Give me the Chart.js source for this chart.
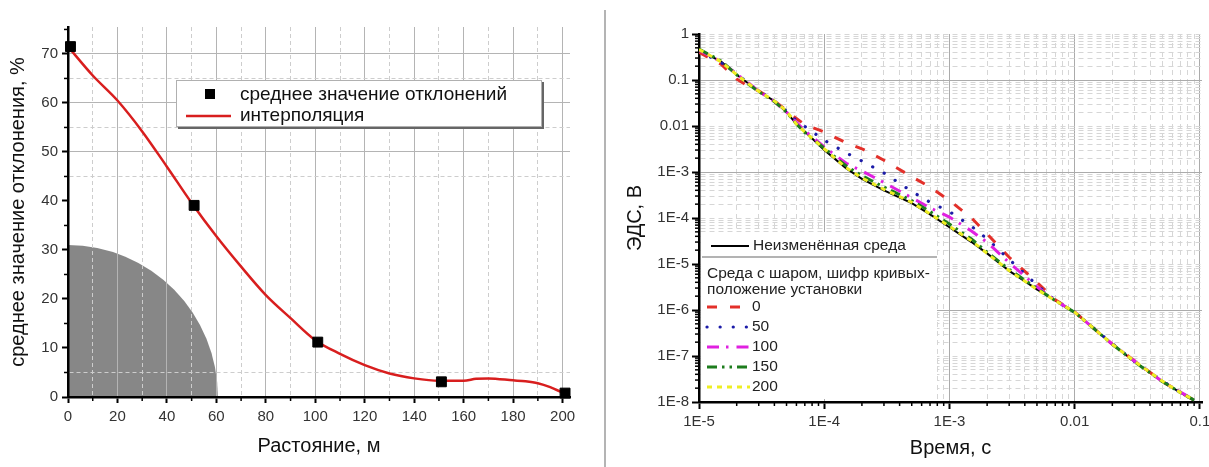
<!DOCTYPE html>
<html>
<head>
<meta charset="utf-8">
<script src="https://cdn.jsdelivr.net/npm/chart.js@4.4.0/dist/chart.umd.min.js"></script>
<style>
html, body { margin: 0; padding: 0; background: #fff; }
body { width: 1209px; height: 467px; position: relative; overflow: hidden; }
#left-wrap { position: absolute; left: 0; top: 0; width: 600px; height: 467px; }
#right-wrap { position: absolute; left: 606px; top: 0; width: 603px; height: 467px; }
#divider { position: absolute; left: 604px; top: 10px; width: 2px; height: 457px; background: #b4b4b4; }
</style>
</head>
<body>
<div id="left-wrap"><canvas id="deviation-chart"></canvas></div>
<div id="divider"></div>
<div id="right-wrap"><canvas id="emf-chart"></canvas></div>
<script>
const FONT_FAMILY = "'Liberation Sans', Arial, Helvetica, sans-serif";

// left chart: mean deviation vs distance
const distanceMeasured = [1, 51, 101, 151, 201];
const deviationMeasured = [71.5, 39.1, 11.2, 3.1, 0.8];
const distanceInterp = [0, 10, 20, 30, 40, 50, 60, 70, 80, 90, 100, 110, 120, 130, 140, 150, 160, 165, 170, 180, 185, 190, 195, 200];
const deviationInterp = [71.5, 65.6, 60.5, 54.2, 47, 39.6, 32.8, 26.6, 20.8, 16.1, 11.6, 8.8, 6.5, 4.8, 3.8, 3.3, 3.3, 3.7, 3.8, 3.4, 3.2, 2.8, 2.0, 0.9];
const zoneRadiusDistance = 60.6;
const zoneRadiusDeviation = 31;
const deviationLegendLabels = ['среднее значение отклонений', 'интерполяция'];

// right chart: EMF decay vs time
const timeValues = [1e-5, 1.5e-5, 2e-5, 2.5e-5, 3e-5, 4e-5, 5e-5, 6e-5, 7e-5, 1e-4, 1.5e-4, 2e-4, 3e-4, 5e-4, 7e-4, 1e-3, 1.5e-3, 2e-3, 3e-3, 5e-3, 7e-3, 0.01, 0.02, 0.03, 0.05, 0.07, 0.09];
const emfPlain = [0.45, 0.25, 0.13, 0.083, 0.056, 0.035, 0.02, 0.011, 0.0076, 0.003, 1.2e-3, 7.1e-4, 4e-4, 2.1e-4, 1.2e-4, 6.3e-5, 3e-5, 1.7e-5, 7.1e-6, 2.8e-6, 1.6e-6, 8.9e-7, 1.8e-7, 7.6e-8, 2.8e-8, 1.6e-8, 1.07e-8];
const emfPos0 = [0.4, 0.22, 0.105, 0.072, 0.058, 0.035, 0.022, 0.0145, 0.0107, 0.0074, 0.0043, 0.0032, 0.0018, 7.9e-4, 4.7e-4, 2.4e-4, 1e-4, 4.5e-5, 1.4e-5, 4e-6, 1.66e-6, 9.1e-7, 1.8e-7, 7.9e-8, 2.8e-8, 1.6e-8, 1.1e-8];
const emfPos50 = [0.43, 0.24, 0.135, 0.083, 0.058, 0.035, 0.021, 0.013, 0.0098, 0.0049, 0.0026, 1.74e-3, 9.5e-4, 3.8e-4, 2.2e-4, 1.38e-4, 6.6e-5, 3.5e-5, 1.26e-5, 3.5e-6, 1.6e-6, 8.9e-7, 1.85e-7, 7.6e-8, 2.9e-8, 1.6e-8, 1.1e-8];
const emfPos100 = [0.45, 0.25, 0.135, 0.085, 0.057, 0.034, 0.02, 0.012, 0.0079, 0.0035, 1.55e-3, 1.05e-3, 5.9e-4, 2.75e-4, 1.66e-4, 1.05e-4, 5.2e-5, 2.95e-5, 1.07e-5, 3.2e-6, 1.6e-6, 9e-7, 1.8e-7, 7.8e-8, 2.8e-8, 1.65e-8, 1.1e-8];
const emfPos150 = [0.47, 0.26, 0.13, 0.08, 0.056, 0.034, 0.02, 0.011, 0.0072, 0.0033, 1.35e-3, 8.3e-4, 4.7e-4, 2.4e-4, 1.38e-4, 7.4e-5, 3.5e-5, 1.8e-5, 7.6e-6, 2.95e-6, 1.6e-6, 8.9e-7, 1.8e-7, 7.5e-8, 2.8e-8, 1.6e-8, 1.1e-8];
const emfPos200 = [0.46, 0.25, 0.13, 0.082, 0.057, 0.035, 0.021, 0.011, 0.0074, 0.0032, 1.23e-3, 7.4e-4, 4.2e-4, 2.2e-4, 1.23e-4, 6.6e-5, 3.2e-5, 1.7e-5, 7.2e-6, 2.8e-6, 1.6e-6, 9e-7, 1.8e-7, 7.7e-8, 2.85e-8, 1.6e-8, 1.1e-8];
const emfLegendLabels = ['Неизменённая среда', '0', '50', '100', '150', '200'];
const emfLegendCaption = ['Среда с шаром, шифр кривых-', 'положение установки'];
const timeTickValues = [1e-5, 1e-4, 1e-3, 0.01, 0.1];
const timeTickLabels = ['1E-5', '1E-4', '1E-3', '0.01', '0.1'];
const emfTickValues = [1, 0.1, 0.01, 1e-3, 1e-4, 1e-5, 1e-6, 1e-7, 1e-8];
const emfTickLabels = ['1', '0.1', '0.01', '1E-3', '1E-4', '1E-5', '1E-6', '1E-7', '1E-8'];
const emfSolidGridExp = [-1, -3, -6];

Chart.defaults.font.family = FONT_FAMILY;
Chart.defaults.color = '#333';

function fixAxisSize(size) {
    return function (scale) {
        if (scale.isHorizontal()) scale.height = size; else scale.width = size;
        scale.paddingLeft = 0;
        scale.paddingRight = 0;
        scale.paddingTop = 0;
        scale.paddingBottom = 0;
    };
}

function minorTicks(isMajorX, isMajorY, len) {
    return {
        id: 'minorTicks',
        afterDraw(chart) {
            const ctx = chart.ctx;
            ctx.save();
            ctx.strokeStyle = '#000';
            ctx.lineWidth = 1.5;
            const sx = chart.scales.x, sy = chart.scales.y;
            sx.ticks.forEach(t => {
                if (isMajorX(t.value)) return;
                const p = sx.getPixelForValue(t.value);
                ctx.beginPath(); ctx.moveTo(p, sx.top); ctx.lineTo(p, sx.top + len); ctx.stroke();
            });
            sy.ticks.forEach(t => {
                if (isMajorY(t.value)) return;
                const p = sy.getPixelForValue(t.value);
                ctx.beginPath(); ctx.moveTo(sy.right, p); ctx.lineTo(sy.right - len, p); ctx.stroke();
            });
            ctx.restore();
        }
    };
}

function toPoints(xs, ys) {
    return xs.map((x, i) => ({x: x, y: ys[i]}));
}

function isDecade(v) {
    const l = Math.log10(v);
    return Math.abs(l - Math.round(l)) < 1e-9;
}

function logTicks(min, max) {
    const out = [];
    for (let e = Math.floor(Math.log10(min)); e <= Math.ceil(Math.log10(max)); e++) {
        for (let m = 1; m <= 9; m++) {
            const v = m * Number('1e' + e);
            if (v >= min * 0.999999 && v <= max * 1.000001) out.push(v);
        }
    }
    return out;
}

function labelFor(v, values, labels) {
    const i = values.findIndex(t => Math.abs(Math.log10(t) - Math.log10(v)) < 1e-6);
    return i >= 0 ? labels[i] : '';
}

function buildDeviationChart() {
    const ctx = document.getElementById('deviation-chart').getContext('2d');

    const zonePlugin = {
        id: 'zone',
        beforeDraw(chart) {
            const {x: sx, y: sy} = chart.scales;
            const c = chart.ctx;
            const cx = sx.getPixelForValue(0), cy = sy.getPixelForValue(0);
            const rx = sx.getPixelForValue(zoneRadiusDistance) - cx;
            const ry = cy - sy.getPixelForValue(zoneRadiusDeviation);
            c.save();
            c.fillStyle = '#878787';
            c.beginPath();
            c.moveTo(cx, cy);
            c.ellipse(cx, cy, rx, ry, 0, -Math.PI / 2, 0);
            c.closePath();
            c.fill();
            c.restore();
        }
    };

    const legendPlugin = {
        id: 'deviationLegend',
        afterDraw(chart) {
            const c = chart.ctx;
            const bx = 176, by = 80, bw = 366, bh = 47;
            const marks = chart.data.datasets[0], line = chart.data.datasets[1];
            c.save();
            c.fillStyle = '#666';
            c.fillRect(bx + 2, by + 2, bw, bh);
            c.fillStyle = '#fff';
            c.fillRect(bx, by, bw, bh);
            c.strokeStyle = '#b0b0b0';
            c.lineWidth = 1;
            c.strokeRect(bx + 0.5, by + 0.5, bw - 1, bh - 1);
            c.fillStyle = marks.backgroundColor;
            c.fillRect(205, 89, 10, 10);
            c.strokeStyle = line.borderColor;
            c.lineWidth = line.borderWidth;
            c.beginPath(); c.moveTo(186, 116); c.lineTo(231, 116); c.stroke();
            c.font = '19px ' + FONT_FAMILY;
            c.fillStyle = '#111';
            c.textBaseline = 'middle';
            c.fillText(deviationLegendLabels[0], 240, 95);
            c.fillText(deviationLegendLabels[1], 240, 116);
            c.restore();
        }
    };

    const majorX = v => v % 20 === 0;
    const majorY = v => v % 10 === 0;

    return new Chart(ctx, {
        type: 'line',
        data: {
            datasets: [{
                label: deviationLegendLabels[0],
                data: toPoints(distanceMeasured, deviationMeasured),
                showLine: false,
                pointStyle: 'rect',
                pointRadius: 7,
                backgroundColor: '#000',
                borderColor: '#000',
                clip: false,
                order: 0
            }, {
                label: deviationLegendLabels[1],
                data: toPoints(distanceInterp, deviationInterp),
                borderColor: '#d81e1e',
                borderWidth: 2.5,
                pointRadius: 0,
                cubicInterpolationMode: 'monotone',
                order: 1
            }]
        },
        options: {
            animation: false,
            responsive: true,
            maintainAspectRatio: false,
            layout: {padding: {top: 27, right: 30, bottom: 0, left: 0}},
            plugins: {legend: {display: false}, tooltip: {enabled: false}},
            scales: {
                x: {
                    type: 'linear', min: 0, max: 203,
                    afterFit: fixAxisSize(70),
                    ticks: {
                        stepSize: 10, includeBounds: false, autoSkip: false, maxRotation: 0,
                        padding: 5, font: {size: 15}, color: '#333',
                        callback: v => majorX(v) ? String(v) : ''
                    },
                    grid: {
                        color: c => c.tick && majorX(c.tick.value) ? '#b4b4b4' : '#cdcdcd',
                        lineWidth: 1, tickLength: 6, tickWidth: 2,
                        tickColor: c => c.tick && majorX(c.tick.value) ? '#000' : 'transparent'
                    },
                    border: {color: '#000', width: 2.5, dash: c => c.tick && !majorX(c.tick.value) ? [4, 3] : []},
                    title: {display: true, text: 'Растояние, м', color: '#111', font: {size: 20, lineHeight: 1.2}, padding: {top: 0, bottom: 9}}
                },
                y: {
                    type: 'linear', min: 0, max: 75.5,
                    afterFit: fixAxisSize(68),
                    ticks: {
                        stepSize: 5, includeBounds: false, autoSkip: false,
                        padding: 4, font: {size: 15}, color: '#333',
                        callback: v => majorY(v) ? String(v) : ''
                    },
                    grid: {
                        color: c => {
                            if (!c.tick) return 'transparent';
                            const v = c.tick.value;
                            if (!(v === 5 || (v >= 45 && v <= 70))) return 'transparent';
                            return majorY(v) ? '#b4b4b4' : '#cdcdcd';
                        },
                        lineWidth: 1, tickLength: 6, tickWidth: 2,
                        tickColor: c => c.tick && majorY(c.tick.value) ? '#000' : 'transparent'
                    },
                    border: {color: '#000', width: 2.5, dash: c => c.tick && !majorY(c.tick.value) ? [4, 3] : []},
                    title: {display: true, text: 'среднее значение отклонения, %', color: '#111', font: {size: 20, lineHeight: 1.2}, padding: {top: 6, bottom: 0}}
                }
            }
        },
        plugins: [zonePlugin, minorTicks(majorX, majorY, 4), legendPlugin]
    });
}

function buildEmfChart() {
    const ctx = document.getElementById('emf-chart').getContext('2d');

    const legendPlugin = {
        id: 'emfLegend',
        afterDraw(chart) {
            const c = chart.ctx;
            const ds = chart.data.datasets;
            c.save();
            c.fillStyle = '#fff';
            c.fillRect(95, 232, 236, 167);
            c.strokeStyle = '#9a9a9a';
            c.lineWidth = 1.5;
            c.beginPath(); c.moveTo(96, 257); c.lineTo(331, 257); c.stroke();
            c.font = '15.5px ' + FONT_FAMILY;
            c.fillStyle = '#222';
            c.textBaseline = 'middle';
            const drawSample = (d, x1, x2, y) => {
                c.save();
                c.strokeStyle = d.borderColor;
                c.lineWidth = d.borderWidth;
                c.lineCap = d.borderCapStyle || 'butt';
                c.setLineDash(d.borderDash || []);
                c.beginPath(); c.moveTo(x1, y); c.lineTo(x2, y); c.stroke();
                c.restore();
            };
            drawSample(ds[0], 105, 143, 246);
            c.fillText(emfLegendLabels[0], 147, 246);
            c.fillText(emfLegendCaption[0], 101, 274);
            c.fillText(emfLegendCaption[1], 101, 290);
            for (let i = 1; i < ds.length; i++) {
                const y = 307 + (i - 1) * 20;
                drawSample(ds[i], 101, 144, y);
                c.fillText(emfLegendLabels[i], 146, y);
            }
            c.restore();
        }
    };

    const majorY = v => isDecade(v);
    const solidY = v => isDecade(v) && emfSolidGridExp.includes(Math.round(Math.log10(v)));

    const common = {pointRadius: 0, fill: false, tension: 0};

    return new Chart(ctx, {
        type: 'line',
        data: {
            datasets: [
                Object.assign({label: emfLegendLabels[0], data: toPoints(timeValues, emfPlain), borderColor: '#000', borderWidth: 2, order: 5}, common),
                Object.assign({label: emfLegendLabels[1], data: toPoints(timeValues, emfPos0), borderColor: '#e3302a', borderWidth: 3, borderDash: [10, 13], order: 4}, common),
                Object.assign({label: emfLegendLabels[2], data: toPoints(timeValues, emfPos50), borderColor: '#1c1ca8', borderWidth: 3.2, borderDash: [0.1, 13], borderCapStyle: 'round', order: 3}, common),
                Object.assign({label: emfLegendLabels[3], data: toPoints(timeValues, emfPos100), borderColor: '#e020e0', borderWidth: 3, borderDash: [12, 7, 2.5, 8], order: 2}, common),
                Object.assign({label: emfLegendLabels[4], data: toPoints(timeValues, emfPos150), borderColor: '#1d7d1d', borderWidth: 3, borderDash: [10, 5, 2.5, 5, 2.5, 5], order: 1}, common),
                Object.assign({label: emfLegendLabels[5], data: toPoints(timeValues, emfPos200), borderColor: '#eeee22', borderWidth: 3, borderDash: [5, 5], order: 0}, common)
            ]
        },
        options: {
            animation: false,
            responsive: true,
            maintainAspectRatio: false,
            layout: {padding: {top: 34, right: 7, bottom: 0, left: 0}},
            plugins: {legend: {display: false}, tooltip: {enabled: false}},
            scales: {
                x: {
                    type: 'logarithmic', min: 1e-5, max: 0.104,
                    afterBuildTicks: s => { s.ticks = logTicks(1e-5, 0.104).map(v => ({value: v})); },
                    afterFit: fixAxisSize(65),
                    ticks: {
                        autoSkip: false, maxRotation: 0, padding: 4, font: {size: 15}, color: '#333',
                        callback: v => labelFor(v, timeTickValues, timeTickLabels)
                    },
                    grid: {
                        color: c => c.tick && isDecade(c.tick.value) ? '#ababab' : '#d6d6d6',
                        lineWidth: 1, tickLength: 7, tickWidth: 2,
                        tickColor: c => c.tick && isDecade(c.tick.value) ? '#000' : 'transparent'
                    },
                    border: {color: '#000', width: 2.5, dash: c => c.tick && !isDecade(c.tick.value) ? [5, 4] : []},
                    title: {display: true, text: 'Время, с', color: '#111', font: {size: 20, lineHeight: 1.2}, padding: {top: 0, bottom: 7}}
                },
                y: {
                    type: 'logarithmic', min: 1e-8, max: 1,
                    afterBuildTicks: s => { s.ticks = logTicks(1e-8, 1).map(v => ({value: v})); },
                    afterFit: fixAxisSize(93),
                    ticks: {
                        autoSkip: false, padding: 3, font: {size: 15}, color: '#333',
                        callback: v => labelFor(v, emfTickValues, emfTickLabels)
                    },
                    grid: {
                        color: c => c.tick && solidY(c.tick.value) ? '#ababab' : '#d6d6d6',
                        lineWidth: 1, tickLength: 7, tickWidth: 2,
                        tickColor: c => c.tick && majorY(c.tick.value) ? '#000' : 'transparent'
                    },
                    border: {color: '#000', width: 2.5, dash: c => c.tick && !solidY(c.tick.value) ? [5, 4] : []},
                    title: {display: true, text: 'ЭДС, В', color: '#111', font: {size: 20, lineHeight: 1.2}, padding: {top: 17, bottom: 0}}
                }
            }
        },
        plugins: [minorTicks(isDecade, majorY, 4), legendPlugin]
    });
}

function initPage() {
    buildDeviationChart();
    buildEmfChart();
}

document.addEventListener('DOMContentLoaded', initPage);
</script>
</body>
</html>
